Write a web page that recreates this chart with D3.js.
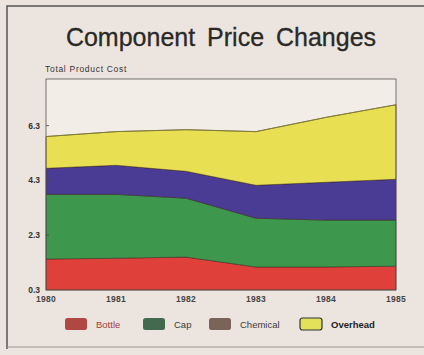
<!DOCTYPE html>
<html>
<head>
<meta charset="utf-8">
<script src="https://cdn.jsdelivr.net/npm/d3@7"></script>
<style>
  html, body { margin: 0; padding: 0; background: #ece5df; }
  svg { display: block; }
  text { font-family: "Liberation Sans", Arial, sans-serif; }
</style>
</head>
<body>
<script>
// Component cost by year (stacked)
const years = [1980, 1981, 1982, 1983, 1984, 1985];
const bottle   = [1.43, 1.46, 1.50, 1.14, 1.14, 1.17];
const cap      = [2.36, 2.33, 2.15, 1.78, 1.71, 1.68];
const chemical = [0.95, 1.06, 0.98, 1.20, 1.38, 1.49];
const overhead = [1.16, 1.23, 1.52, 1.96, 2.37, 2.72];
const seriesNames = ["Bottle", "Cap", "Chemical", "Overhead"];
const yTicks = [0.3, 2.3, 4.3, 6.3];

const areaColors = ["#e0403a", "#3d984e", "#4a3b94", "#e9df52"];
const swatchColors = ["#b04842", "#436a4f", "#7a6359", "#e3e05a"];
const labelColors = ["#a83a3a", "#3a3a3a", "#3a3a3a", "#222"];

const W = 424, H = 355;
const svg = d3.select("body").append("svg").attr("width", W).attr("height", H);

// outer frame
svg.append("path")
  .attr("d", "M7,349 L7,6 L424,6")
  .attr("fill", "none").attr("stroke", "#555").attr("stroke-width", 1.5);
svg.append("line").attr("x1", 7).attr("x2", 424).attr("y1", 347).attr("y2", 347)
  .attr("stroke", "#9a9590").attr("stroke-width", 1);

svg.append("text").attr("x", 221).attr("y", 46).attr("text-anchor", "middle")
  .attr("font-size", 25).attr("fill", "#2b2926").attr("word-spacing", 5)
  .attr("stroke", "#2b2926").attr("stroke-width", 0.3)
  .text("Component Price Changes");

svg.append("text").attr("x", 45).attr("y", 72)
  .attr("font-size", 8.5).attr("letter-spacing", 0.7).attr("fill", "#333")
  .text("Total Product Cost");

const plot = { left: 46, right: 396, top: 79, bottom: 290 };
const x = d3.scaleLinear().domain([1980, 1985]).range([plot.left, plot.right]);
const y = d3.scaleLinear().domain([0.3, 8.0]).range([plot.bottom, plot.top]).clamp(true);

svg.append("rect").attr("x", plot.left).attr("y", plot.top)
  .attr("width", plot.right - plot.left).attr("height", plot.bottom - plot.top)
  .attr("fill", "#f2ede6");

const table = years.map((yr, i) => ({
  year: yr, Bottle: bottle[i], Cap: cap[i], Chemical: chemical[i], Overhead: overhead[i]
}));
const stacked = d3.stack().keys(seriesNames)(table);

const area = d3.area()
  .x(d => x(d.data.year))
  .y0(d => y(d[0]))
  .y1(d => y(d[1]));

const g = svg.append("g");
g.selectAll("path.layer").data(stacked).join("path")
  .attr("class", "layer")
  .attr("d", area)
  .attr("fill", (d, i) => areaColors[i])
  .attr("stroke", "#3a2a22").attr("stroke-opacity", 0.55).attr("stroke-width", 1);

// top edge of total
const topLine = d3.line().x(d => x(d.data.year)).y(d => y(d[1]));
g.append("path").attr("d", topLine(stacked[3]))
  .attr("fill", "none").attr("stroke", "#7a7a30").attr("stroke-width", 0.8);

// plot frame
svg.append("rect").attr("x", plot.left).attr("y", plot.top)
  .attr("width", plot.right - plot.left).attr("height", plot.bottom - plot.top)
  .attr("fill", "none").attr("stroke", "#555").attr("stroke-width", 0.8);

// y axis labels
const yAxis = svg.append("g");
yAxis.selectAll("text").data(yTicks).join("text")
  .attr("x", 40).attr("y", d => y(d) + 3)
  .attr("text-anchor", "end").attr("font-size", 8.5).attr("font-weight", "bold")
  .attr("fill", "#333").text(d => d.toFixed(1));
yAxis.selectAll("line").data(yTicks.slice(1)).join("line")
  .attr("x1", plot.left).attr("x2", plot.left + 3)
  .attr("y1", d => y(d)).attr("y2", d => y(d))
  .attr("stroke", "#444").attr("stroke-width", 0.8);

// x axis labels
svg.append("g").selectAll("text").data(years).join("text")
  .attr("x", d => x(d)).attr("y", 302)
  .attr("text-anchor", "middle").attr("font-size", 8.5).attr("font-weight", "bold")
  .attr("letter-spacing", 0.3)
  .attr("fill", "#444").text(d => d);

// legend
const legendX = [65, 143, 209, 300];
const legend = svg.append("g").selectAll("g").data(seriesNames).join("g")
  .attr("transform", (d, i) => `translate(${legendX[i]},318)`);
legend.append("rect").attr("width", 22).attr("height", 12).attr("rx", 2.5)
  .attr("fill", (d, i) => swatchColors[i])
  .attr("stroke", (d, i) => i === 3 ? "#333" : "none").attr("stroke-width", 1.2);
legend.append("text").attr("x", 31).attr("y", 10)
  .attr("font-size", 9.5).attr("fill", (d, i) => labelColors[i])
  .attr("font-weight", (d, i) => i === 3 ? "bold" : "normal")
  .text(d => d);
</script>
</body>
</html>
